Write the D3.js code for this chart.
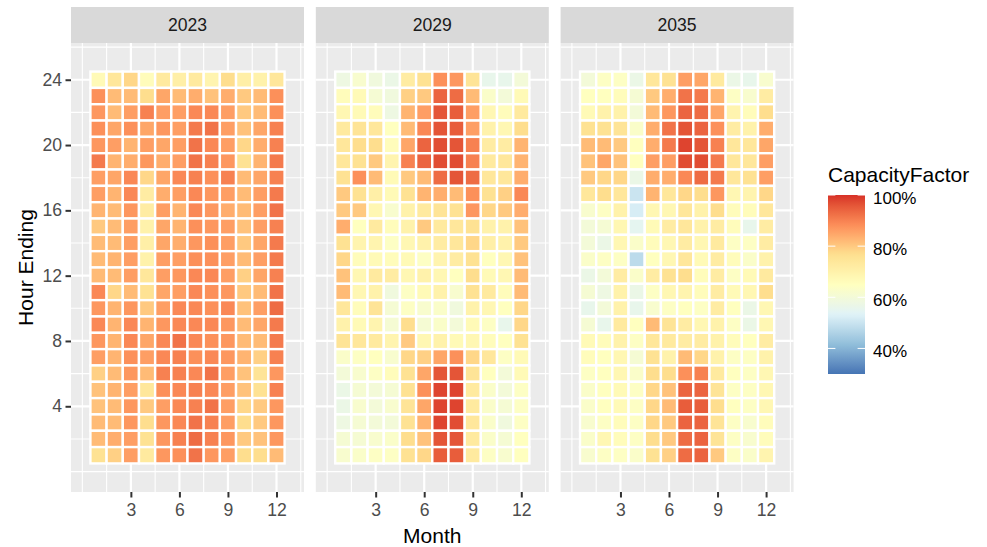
<!DOCTYPE html>
<html>
<head>
<meta charset="utf-8">
<script src="https://cdn.jsdelivr.net/npm/d3@7"></script>
<style>
  html, body { margin: 0; padding: 0; background: #ffffff; }
  svg { display: block; font-family: "Liberation Sans", Arial, sans-serif; }
</style>
</head>
<body>
<svg id="chart" width="987" height="547"></svg>
<script>
// Facets, axes and legend breaks
const years = ["2023", "2029", "2035"];
const months = d3.range(1, 13);
const monthTicks = [3, 6, 9, 12];
const hourTicks = [4, 8, 12, 16, 20, 24];
const legendTicks = [40, 60, 80, 100];
const cfLimits = [30, 100];

// Capacity factor (%) by hour ending (rows: hour 24 down to hour 1) and month (columns: Jan..Dec)
const cf2023 = [
  [67,74,78,66,73,71,73,69,77,71,70,74],
  [88,82,82,77,85,82,84,81,84,80,82,88],
  [87,82,86,90,86,86,89,89,86,80,82,88],
  [88,85,88,85,87,86,91,92,86,81,85,90],
  [87,86,83,86,85,86,92,89,86,78,84,90],
  [91,83,84,87,84,86,92,90,87,76,83,91],
  [86,85,89,78,85,89,90,88,90,82,85,90],
  [86,83,89,72,84,86,89,87,86,82,86,91],
  [83,82,87,72,86,83,89,87,84,82,86,92],
  [80,82,86,70,85,83,88,87,86,81,86,90],
  [82,82,86,71,85,84,87,88,86,80,85,91],
  [82,83,86,70,86,86,88,88,86,82,86,91],
  [82,82,86,74,86,87,89,89,86,79,85,90],
  [89,78,82,76,85,86,89,88,87,80,82,92],
  [87,83,87,80,86,89,89,88,89,81,86,93],
  [89,83,89,83,87,89,89,89,87,82,85,91],
  [87,83,89,85,89,92,89,88,87,82,82,91],
  [86,83,88,86,89,90,88,89,87,83,79,90],
  [79,82,87,82,90,90,89,92,86,81,75,87],
  [81,83,86,74,88,89,90,89,86,81,76,90],
  [81,82,87,80,86,89,90,92,86,78,80,87],
  [82,82,87,77,87,89,92,90,86,77,80,87],
  [82,84,86,76,87,90,93,90,87,80,81,87],
  [76,79,86,73,87,88,92,87,86,77,77,82]
];
const cf2029 = [
  [58,62,59,57,72,76,88,87,75,56,56,60],
  [66,67,61,59,79,80,94,93,82,63,60,67],
  [68,67,66,58,83,86,96,95,86,68,66,73],
  [73,75,74,65,82,89,96,95,86,70,68,77],
  [74,77,77,66,85,94,97,96,90,72,72,83],
  [74,76,80,69,90,94,97,97,90,73,74,83],
  [76,88,82,67,80,82,93,96,93,74,74,84],
  [80,76,71,67,76,83,84,82,88,76,79,89],
  [80,80,68,62,70,73,75,76,87,78,80,84],
  [84,65,73,66,70,80,73,74,76,70,70,81],
  [76,69,69,64,68,70,72,74,78,71,70,80],
  [78,66,67,66,67,64,69,72,76,65,68,81],
  [81,68,73,72,68,70,68,65,77,67,68,82],
  [82,68,70,59,64,67,70,62,76,73,66,82],
  [74,66,75,61,64,62,63,59,70,68,65,78],
  [70,67,69,61,77,61,63,60,67,64,56,78],
  [75,74,73,69,80,68,70,67,68,66,65,76],
  [63,64,65,62,78,79,85,88,78,74,64,67],
  [60,62,64,66,76,85,96,96,75,65,60,67],
  [57,61,60,61,76,88,98,98,73,63,60,64],
  [57,62,60,62,75,85,98,98,73,63,61,64],
  [58,61,60,60,76,83,98,97,74,63,59,64],
  [61,61,62,63,77,81,96,96,73,63,61,65],
  [62,63,64,64,76,78,95,95,73,64,62,65]
];
const cf2035 = [
  [60,64,64,57,74,76,86,85,73,57,56,62],
  [65,65,66,61,80,84,92,91,83,64,62,72],
  [67,70,70,60,82,87,94,93,85,69,66,77],
  [76,76,75,63,84,92,96,94,88,72,70,84],
  [82,82,80,65,84,91,98,96,90,74,74,85],
  [81,85,81,65,86,86,97,97,91,74,74,86],
  [80,78,78,57,84,84,89,93,91,74,76,86],
  [74,77,74,50,83,74,78,77,87,68,69,78],
  [62,64,70,52,68,68,74,70,77,66,66,74],
  [60,61,68,55,67,72,74,70,72,66,56,72],
  [60,57,68,63,66,68,72,68,73,64,64,72],
  [63,64,64,48,65,68,74,67,72,66,63,70],
  [57,60,72,63,72,76,77,66,72,64,67,73],
  [61,58,70,57,64,68,69,66,72,67,68,77],
  [56,60,70,56,62,64,65,64,72,65,57,68],
  [61,56,73,65,82,75,72,68,70,64,57,68],
  [67,66,70,64,74,73,72,72,70,66,65,72],
  [66,65,68,61,76,70,82,78,70,64,64,70],
  [64,65,68,63,77,77,88,90,73,65,64,68],
  [63,65,67,64,78,81,94,94,75,64,64,68],
  [63,65,67,64,78,82,95,95,77,65,64,68],
  [62,64,66,64,78,80,94,94,75,64,62,66],
  [63,68,66,64,77,80,93,94,75,64,62,66],
  [62,64,64,63,76,79,93,94,80,64,63,69]
];
const seriesByYear = [cf2023, cf2029, cf2035];

// Long table: one record per tile
const tiles = [];
seriesByYear.forEach((rows, yi) => {
  rows.forEach((row, ri) => {
    row.forEach((v, mi) => {
      tiles.push({ year: years[yi], hour: 24 - ri, month: months[mi], cf: v });
    });
  });
});

// Layout
const svg = d3.select("#chart");
const font = '"Liberation Sans", Arial, sans-serif';
const panelTop = 43, panelBottom = 492;
const panelW = 233, panelH = panelBottom - panelTop;
const stripTop = 7;
const facetX = d3.scalePoint().domain(years).range([71, 560.6]);

const x = d3.scaleLinear().domain([-0.7, 13.7]).range([0, panelW]);
const y = d3.scaleLinear().domain([-1.25, 26.25]).range([panelH, 0]);

// RdYlBu diverging fill, low = blue, high = red (Lab interpolation)
const palette = ["#4575B4", "#91BFDB", "#E0F3F8", "#FFFFBF", "#FEE090", "#FC8D59", "#D73027"];
const color = d3.scaleLinear()
  .domain(d3.range(7).map(i => cfLimits[0] + i * (cfLimits[1] - cfLimits[0]) / 6))
  .range(palette)
  .interpolate(d3.interpolateLab)
  .clamp(true);

const minorX = [0, 1.5, 4.5, 7.5, 10.5, 13.5];
const minorY = [0, 2, 6, 10, 14, 18, 22, 26];

years.forEach((yr, i) => {
  const left = facetX(yr);
  const g = svg.append("g").attr("transform", `translate(${left},${panelTop})`);

  // panel background
  g.append("rect").attr("width", panelW).attr("height", panelH).attr("fill", "#EBEBEB");

  // grid
  g.selectAll(".gxm").data(minorX).join("line")
    .attr("x1", d => x(d)).attr("x2", d => x(d)).attr("y1", 0).attr("y2", panelH)
    .attr("stroke", "#ffffff").attr("stroke-width", 1.1);
  g.selectAll(".gym").data(minorY).join("line")
    .attr("y1", d => y(d)).attr("y2", d => y(d)).attr("x1", 0).attr("x2", panelW)
    .attr("stroke", "#ffffff").attr("stroke-width", 1.1);
  g.selectAll(".gxM").data(monthTicks).join("line")
    .attr("x1", d => x(d)).attr("x2", d => x(d)).attr("y1", 0).attr("y2", panelH)
    .attr("stroke", "#ffffff").attr("stroke-width", 2.2);
  g.selectAll(".gyM").data(hourTicks).join("line")
    .attr("y1", d => y(d)).attr("y2", d => y(d)).attr("x1", 0).attr("x2", panelW)
    .attr("stroke", "#ffffff").attr("stroke-width", 2.2);

  // tiles
  const cw = x(1) - x(0), ch = y(0) - y(1);
  g.selectAll(".tile").data(tiles.filter(t => t.year === yr)).join("rect")
    .attr("x", d => x(d.month - 0.5))
    .attr("y", d => y(d.hour + 0.5))
    .attr("width", cw).attr("height", ch)
    .attr("fill", d => color(d.cf))
    .attr("stroke", "#ffffff").attr("stroke-width", 2.4);

  // strip
  svg.append("rect").attr("x", left).attr("y", stripTop)
    .attr("width", panelW).attr("height", panelTop - stripTop).attr("fill", "#D9D9D9");
  svg.append("text").attr("x", left + panelW / 2).attr("y", (stripTop + panelTop) / 2)
    .attr("text-anchor", "middle").attr("dominant-baseline", "central")
    .attr("font-size", 17.6).attr("fill", "#1A1A1A").text(yr);

  // x axis
  const ax = svg.append("g").attr("transform", `translate(${left},${panelBottom})`)
    .call(d3.axisBottom(x).tickValues(monthTicks).tickSize(5.5).tickPadding(6).tickFormat(d3.format("d")));
  ax.select(".domain").remove();
  ax.selectAll(".tick line").attr("stroke", "#333333").attr("stroke-width", 2);
  ax.selectAll(".tick text").attr("font-family", font).attr("font-size", 17.6).attr("fill", "#4D4D4D");

  // y axis on the first panel only
  if (i === 0) {
    const ay = svg.append("g").attr("transform", `translate(${left},${panelTop})`)
      .call(d3.axisLeft(y).tickValues(hourTicks).tickSize(5.5).tickPadding(3.5).tickFormat(d3.format("d")));
    ay.select(".domain").remove();
    ay.selectAll(".tick line").attr("stroke", "#333333").attr("stroke-width", 2);
    ay.selectAll(".tick text").attr("font-family", font).attr("font-size", 17.6).attr("fill", "#4D4D4D");
  }
});

// axis titles
svg.append("text").attr("x", (71 + 560.6 + panelW) / 2).attr("y", 535)
  .attr("text-anchor", "middle").attr("dominant-baseline", "central")
  .attr("font-size", 21).attr("fill", "#000000").text("Month");
svg.append("text").attr("transform", `translate(25,${(panelTop + panelBottom) / 2}) rotate(-90)`)
  .attr("text-anchor", "middle").attr("dominant-baseline", "central")
  .attr("font-size", 21).attr("fill", "#000000").text("Hour Ending");

// colour bar legend
const barX = 828, barY = 195, barW = 37, barH = 179;
const ly = d3.scaleLinear().domain(cfLimits).range([barY + barH, barY]);
const defs = svg.append("defs");
const grad = defs.append("linearGradient").attr("id", "cfbar")
  .attr("x1", 0).attr("y1", 1).attr("x2", 0).attr("y2", 0);
d3.range(0, 1.0001, 0.02).forEach(t => {
  grad.append("stop").attr("offset", t)
    .attr("stop-color", color(cfLimits[0] + t * (cfLimits[1] - cfLimits[0])));
});
svg.append("text").attr("x", barX).attr("y", 174)
  .attr("dominant-baseline", "central").attr("font-size", 21).attr("fill", "#000000")
  .text("CapacityFactor");
svg.append("rect").attr("x", barX).attr("y", barY).attr("width", barW).attr("height", barH)
  .attr("fill", "url(#cfbar)");
svg.selectAll(".lt").data(legendTicks).join("g").each(function (d) {
  const g = d3.select(this);
  g.append("line").attr("x1", barX).attr("x2", barX + barW / 5)
    .attr("y1", ly(d)).attr("y2", ly(d)).attr("stroke", "#ffffff").attr("stroke-width", 1);
  g.append("line").attr("x1", barX + barW - barW / 5).attr("x2", barX + barW)
    .attr("y1", ly(d)).attr("y2", ly(d)).attr("stroke", "#ffffff").attr("stroke-width", 1);
  g.append("text").attr("x", barX + barW + 8).attr("y", ly(d) + 3)
    .attr("dominant-baseline", "central").attr("font-size", 17).attr("fill", "#000000")
    .text(d + "%");
});
</script>
</body>
</html>
